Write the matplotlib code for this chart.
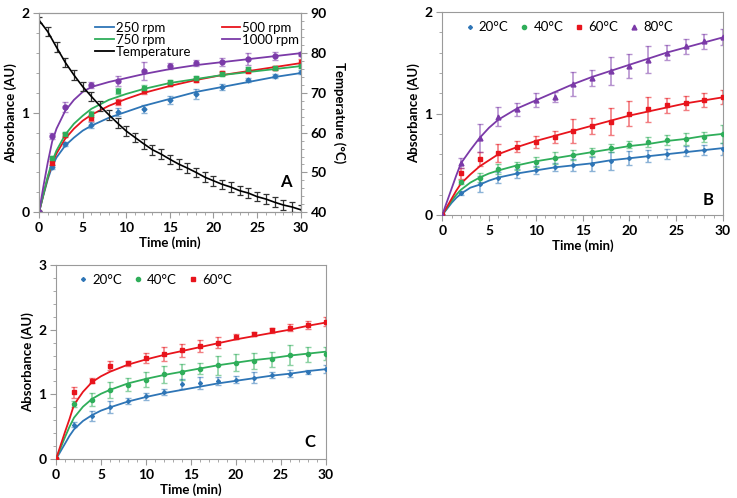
import matplotlib.pyplot as plt
from matplotlib.ticker import MultipleLocator
from matplotlib.lines import Line2D

plt.rcParams['font.family'] = ['Lato', 'DejaVu Sans']

BLUE = '#2e75b6'
RED = '#e8141c'
GREEN = '#2fae5a'
PURPLE = '#7b3aa8'
GRAY = '#9a9a9a'

# ---- panel A: stirring speed + temperature
a_t = [0, 1.5, 3, 6, 9, 12, 15, 18, 21, 24, 27, 30]
a_250 = [0, 0.45, 0.69, 0.88, 1.01, 1.04, 1.13, 1.19, 1.26, 1.33, 1.37, 1.41]
a_500 = [0, 0.49, 0.78, 0.95, 1.11, 1.22, 1.29, 1.33, 1.40, 1.42, 1.45, 1.51]
a_750 = [0, 0.55, 0.79, 0.99, 1.22, 1.25, 1.31, 1.35, 1.39, 1.44, 1.45, 1.47]
a_1000 = [0, 0.77, 1.06, 1.28, 1.32, 1.42, 1.47, 1.50, 1.51, 1.54, 1.57, 1.59]
a_250_err = [0, 0.02, 0.02, 0.03, 0.04, 0.04, 0.04, 0.05, 0.03, 0.02, 0.02, 0.02]
a_500_err = [0, 0.02, 0.02, 0.03, 0.03, 0.03, 0.02, 0.02, 0.02, 0.02, 0.02, 0.03]
a_750_err = [0, 0.02, 0.02, 0.03, 0.03, 0.03, 0.02, 0.02, 0.02, 0.02, 0.02, 0.02]
a_1000_err = [0, 0.03, 0.05, 0.03, 0.05, 0.09, 0.03, 0.03, 0.04, 0.06, 0.04, 0.02]

a_fit_t = [0, 0.5, 1, 1.5, 2, 3, 4, 5, 6, 8, 10, 12, 15, 18, 21, 24, 27, 30]
a_250_fit = [0, 0.17, 0.33, 0.46, 0.55, 0.67, 0.75, 0.82, 0.87, 0.95, 1.01, 1.07, 1.14, 1.21, 1.26, 1.31, 1.36, 1.40]
a_500_fit = [0, 0.18, 0.35, 0.49, 0.59, 0.74, 0.84, 0.92, 0.98, 1.07, 1.14, 1.20, 1.27, 1.33, 1.38, 1.42, 1.46, 1.50]
a_750_fit = [0, 0.18, 0.36, 0.51, 0.62, 0.78, 0.89, 0.97, 1.04, 1.13, 1.19, 1.24, 1.30, 1.34, 1.38, 1.41, 1.44, 1.47]
a_1000_fit = [0, 0.26, 0.50, 0.71, 0.84, 1.02, 1.13, 1.21, 1.26, 1.31, 1.35, 1.39, 1.44, 1.48, 1.51, 1.54, 1.57, 1.60]

temp_t = list(range(31))
temp = [88.3, 85.4, 81.5, 77.7, 74.5, 71.6, 69.1, 66.7, 64.5, 62.4, 60.4, 58.8, 57.2, 55.7,
        54.6, 53.3, 52.1, 51.1, 50.0, 48.8, 47.9, 47.0, 46.3, 45.4, 44.8, 43.9, 43.3, 42.5,
        41.8, 41.3, 40.6]
temp_err = [0.8] + [1.2] * 30

# ---- panel B: temperature series
b_t = [0, 2, 4, 6, 8, 10, 12, 14, 16, 18, 20, 22, 24, 26, 28, 30]
b_20 = [0, 0.22, 0.31, 0.37, 0.41, 0.44, 0.47, 0.49, 0.50, 0.53, 0.56, 0.58, 0.60, 0.63, 0.64, 0.65]
b_40 = [0, 0.33, 0.37, 0.45, 0.485, 0.52, 0.56, 0.59, 0.62, 0.665, 0.695, 0.72, 0.74, 0.75, 0.77, 0.80]
b_60 = [0, 0.41, 0.55, 0.61, 0.675, 0.72, 0.77, 0.83, 0.88, 0.92, 1.00, 1.04, 1.08, 1.10, 1.13, 1.16]
b_80 = [0, 0.51, 0.76, 0.97, 1.04, 1.13, 1.16, 1.29, 1.35, 1.42, 1.47, 1.53, 1.60, 1.66, 1.71, 1.75]
b_20_err = [0, 0.02, 0.08, 0.05, 0.04, 0.04, 0.04, 0.06, 0.07, 0.09, 0.07, 0.06, 0.05, 0.05, 0.05, 0.06]
b_40_err = [0, 0.02, 0.04, 0.05, 0.04, 0.05, 0.06, 0.05, 0.04, 0.04, 0.03, 0.05, 0.05, 0.06, 0.05, 0.09]
b_60_err = [0, 0.05, 0.07, 0.09, 0.05, 0.06, 0.06, 0.12, 0.08, 0.13, 0.12, 0.12, 0.07, 0.07, 0.07, 0.07]
b_80_err = [0, 0.05, 0.14, 0.09, 0.06, 0.07, 0.05, 0.12, 0.08, 0.14, 0.12, 0.13, 0.07, 0.07, 0.07, 0.08]

bc_fit_t = [0, 0.5, 1, 1.5, 2, 3, 4, 5, 6, 8, 10, 12, 14, 16, 18, 20, 22, 24, 26, 28, 30]
b_20_fit = [0, 0.06, 0.12, 0.17, 0.21, 0.27, 0.30, 0.34, 0.37, 0.41, 0.44, 0.47, 0.49, 0.51, 0.54, 0.56, 0.58, 0.60, 0.62, 0.64, 0.66]
b_40_fit = [0, 0.07, 0.14, 0.20, 0.25, 0.32, 0.37, 0.41, 0.44, 0.49, 0.53, 0.56, 0.59, 0.62, 0.65, 0.68, 0.70, 0.73, 0.75, 0.78, 0.80]
b_60_fit = [0, 0.08, 0.16, 0.24, 0.31, 0.40, 0.48, 0.54, 0.60, 0.67, 0.73, 0.78, 0.83, 0.88, 0.93, 0.98, 1.02, 1.06, 1.10, 1.13, 1.16]
b_80_fit = [0, 0.13, 0.26, 0.39, 0.51, 0.64, 0.76, 0.86, 0.94, 1.05, 1.13, 1.21, 1.29, 1.36, 1.42, 1.48, 1.54, 1.60, 1.65, 1.70, 1.75]

# ---- panel C
c_t = b_t
c_20 = [0, 0.53, 0.67, 0.81, 0.90, 0.97, 1.04, 1.16, 1.18, 1.21, 1.23, 1.26, 1.30, 1.32, 1.34, 1.39]
c_40 = [0, 0.85, 0.92, 1.07, 1.15, 1.23, 1.31, 1.35, 1.40, 1.45, 1.49, 1.52, 1.54, 1.61, 1.62, 1.63]
c_60 = [0, 1.03, 1.21, 1.44, 1.48, 1.56, 1.63, 1.68, 1.75, 1.80, 1.89, 1.93, 1.99, 2.03, 2.07, 2.12]
c_20_err = [0, 0.04, 0.08, 0.09, 0.05, 0.05, 0.05, 0.08, 0.09, 0.06, 0.06, 0.08, 0.05, 0.05, 0.03, 0.06]
c_40_err = [0, 0.05, 0.1, 0.12, 0.1, 0.11, 0.13, 0.12, 0.09, 0.15, 0.13, 0.12, 0.11, 0.15, 0.12, 0.1]
c_60_err = [0, 0.09, 0.04, 0.07, 0.04, 0.08, 0.11, 0.1, 0.09, 0.08, 0.04, 0.03, 0.04, 0.05, 0.06, 0.07]

c_20_fit = [0, 0.12, 0.24, 0.36, 0.46, 0.59, 0.68, 0.75, 0.80, 0.89, 0.96, 1.02, 1.07, 1.12, 1.17, 1.21, 1.25, 1.29, 1.32, 1.36, 1.39]
c_40_fit = [0, 0.17, 0.34, 0.50, 0.64, 0.81, 0.93, 1.01, 1.07, 1.17, 1.24, 1.30, 1.35, 1.40, 1.45, 1.49, 1.53, 1.56, 1.60, 1.63, 1.66]
c_60_fit = [0, 0.21, 0.42, 0.62, 0.84, 1.04, 1.19, 1.28, 1.35, 1.46, 1.54, 1.61, 1.67, 1.73, 1.79, 1.85, 1.90, 1.95, 2.00, 2.06, 2.11]

TICK_FS = 10
LABEL_FS = 9.5
LEG_FS = 9.5


def style_axes(ax, ymax, ymajor):
    ax.set_xlim(0, 30)
    ax.set_ylim(0, ymax)
    ax.xaxis.set_major_locator(MultipleLocator(5))
    ax.xaxis.set_minor_locator(MultipleLocator(1))
    ax.yaxis.set_major_locator(MultipleLocator(ymajor))
    ax.yaxis.set_minor_locator(MultipleLocator(ymajor / 5))
    for s in ax.spines.values():
        s.set_color(GRAY)
        s.set_linewidth(0.8)
    ax.tick_params(which='both', color=GRAY, direction='out')
    ax.tick_params(which='major', length=4, labelsize=TICK_FS, pad=3)
    ax.tick_params(which='minor', length=2.5)
    for lab in ax.get_xticklabels() + ax.get_yticklabels():
        lab.set_fontweight('bold')
    ax.set_xlabel('Time (min)', fontsize=LABEL_FS, fontweight='bold', labelpad=2)
    ax.set_ylabel('Absorbance (AU)', fontsize=LABEL_FS, fontweight='bold', labelpad=3)


def series(ax, t, y, err, ft, fy, color, marker, ms, label):
    ax.errorbar(t, y, yerr=err, fmt='none', ecolor=color, alpha=0.55,
                elinewidth=1.2, capsize=2, capthick=1, zorder=2)
    ax.plot(ft, fy, color=color, lw=1.3, zorder=3)
    ax.plot(t, y, ls='none', marker=marker, ms=ms, color=color, mec=color,
            zorder=4, label=label)


fig = plt.figure(figsize=(7.37, 4.98), dpi=100)

# panel A
axA = fig.add_axes([0.053, 0.574, 0.355, 0.399])
style_axes(axA, 2, 1)
series(axA, a_t, a_250, a_250_err, a_fit_t, a_250_fit, BLUE, 'D', 2.5, '250 rpm')
series(axA, a_t, a_500, a_500_err, a_fit_t, a_500_fit, RED, 's', 3.5, '500 rpm')
series(axA, a_t, a_750, a_750_err, a_fit_t, a_750_fit, GREEN, 's', 3, '750 rpm')
series(axA, a_t, a_1000, a_1000_err, a_fit_t, a_1000_fit, PURPLE, 'o', 3.5, '1000 rpm')
axA.text(28.3, 0.3, 'A', fontsize=12, fontweight='bold', ha='center', va='center')

axT = axA.twinx()
axT.set_ylim(40, 90)
axT.yaxis.set_major_locator(MultipleLocator(10))
axT.yaxis.set_minor_locator(MultipleLocator(2))
for s in axT.spines.values():
    s.set_color(GRAY)
    s.set_linewidth(0.8)
axT.tick_params(which='both', color=GRAY, direction='out')
axT.tick_params(which='major', length=4, labelsize=TICK_FS, pad=3)
axT.tick_params(which='minor', length=2.5)
for lab in axT.get_yticklabels():
    lab.set_fontweight('bold')
axT.errorbar(temp_t, temp, yerr=temp_err, color='black', lw=1.2,
             elinewidth=0.9, capsize=2, capthick=0.9, ecolor='#333333')
axT.set_ylabel('Temperature (°C)', fontsize=LABEL_FS, fontweight='bold', rotation=270, labelpad=14)

handles = [Line2D([], [], color=BLUE, lw=1.3), Line2D([], [], color=GREEN, lw=1.3),
           Line2D([], [], color='black', lw=1.3), Line2D([], [], color=RED, lw=1.3),
           Line2D([], [], color=PURPLE, lw=1.3)]
labels = ['250 rpm', '750 rpm', 'Temperature', '500 rpm', '1000 rpm']
axT.legend(handles, labels, ncol=2, loc='upper left', bbox_to_anchor=(0.195, 0.985),
           frameon=False, fontsize=LEG_FS, handlelength=1.4, handletextpad=0.15,
           columnspacing=2.3, labelspacing=0.0, borderaxespad=0)

# panel B
axB = fig.add_axes([0.600, 0.568, 0.381, 0.408])
style_axes(axB, 2, 1)
series(axB, b_t, b_20, b_20_err, bc_fit_t, b_20_fit, BLUE, 'D', 2, '20°C')
series(axB, b_t, b_40, b_40_err, bc_fit_t, b_40_fit, GREEN, 'o', 3, '40°C')
series(axB, b_t, b_60, b_60_err, bc_fit_t, b_60_fit, RED, 's', 3.5, '60°C')
series(axB, b_t, b_80, b_80_err, bc_fit_t, b_80_fit, PURPLE, '^', 3.5, '80°C')
axB.text(28.4, 0.15, 'B', fontsize=12, fontweight='bold', ha='center', va='center')
axB.legend(ncol=4, loc='upper left', bbox_to_anchor=(0.06, 0.98), frameon=False,
           fontsize=LEG_FS, handlelength=0.8, handletextpad=0.3, columnspacing=0.8,
           borderaxespad=0)

# panel C
axC = fig.add_axes([0.076, 0.078, 0.366, 0.390])
style_axes(axC, 3, 1)
series(axC, c_t, c_20, c_20_err, bc_fit_t, c_20_fit, BLUE, 'D', 2, '20°C')
series(axC, c_t, c_40, c_40_err, bc_fit_t, c_40_fit, GREEN, 'o', 3, '40°C')
series(axC, c_t, c_60, c_60_err, bc_fit_t, c_60_fit, RED, 's', 3.5, '60°C')
axC.text(28.2, 0.26, 'C', fontsize=12, fontweight='bold', ha='center', va='center')
axC.legend(ncol=3, loc='upper left', bbox_to_anchor=(0.06, 0.98), frameon=False,
           fontsize=LEG_FS, handlelength=0.8, handletextpad=0.3, columnspacing=0.8,
           borderaxespad=0)

fig.savefig('out.png', dpi=100)
